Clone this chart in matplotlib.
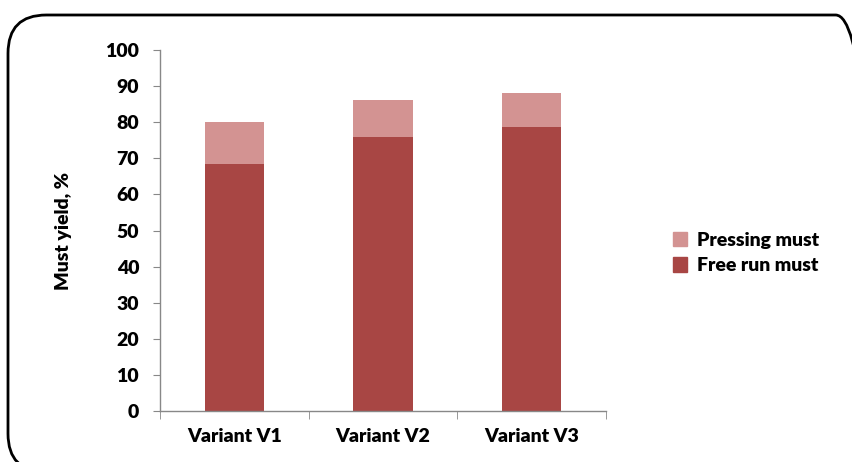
import matplotlib
matplotlib.use("Agg")
import matplotlib.pyplot as plt
from matplotlib.patches import FancyBboxPatch, Patch
import numpy as np

categories = ["Variant V1", "Variant V2", "Variant V3"]
free_run = [68.5, 75.8, 78.7]
pressing = [11.5, 10.3, 9.3]

dark_red = "#A84644"
light_red = "#D39392"

plt.rcParams["font.family"] = ["Lato", "DejaVu Sans"]
weight = "heavy"

fig = plt.figure(figsize=(8.52, 4.62), dpi=100)
W, H = 852, 462

# rounded frame around the chart area (right and bottom edges run off the page)
frame = FancyBboxPatch((8 / W, 1 - 472 / H), 874 / W - 8 / W, (472 - 15) / H,
                       boxstyle="round,pad=0,rounding_size=0.045",
                       transform=fig.transFigure, fill=False,
                       edgecolor="black", linewidth=2, mutation_aspect=W / H)
fig.patches.append(frame)

ax = fig.add_axes([160 / W, 1 - 411 / H, (606 - 160) / W, (411 - 50) / H])

x = np.arange(len(categories))
ax.bar(x, free_run, width=0.4, color=dark_red, label="Free run must")
ax.bar(x, pressing, width=0.4, bottom=free_run, color=light_red, label="Pressing must")

ax.set_xlim(-0.5, len(categories) - 0.5)
ax.set_ylim(0, 100)
ax.set_yticks(range(0, 101, 10))
ax.set_xticks(x)
ax.set_xticklabels(categories, fontsize=14, fontweight=weight)
ax.set_xticks(np.arange(-0.5, len(categories)), minor=True)
ax.tick_params(axis="x", which="major", length=0, pad=12)
ax.tick_params(axis="x", which="minor", length=6, color="#888888")
ax.tick_params(axis="y", length=5, color="#888888", pad=10)
for lbl in ax.get_yticklabels():
    lbl.set_fontsize(14)
    lbl.set_fontweight(weight)

for side in ["top", "right"]:
    ax.spines[side].set_visible(False)
for side in ["left", "bottom"]:
    ax.spines[side].set_color("#888888")
    ax.spines[side].set_linewidth(1)

ax.set_ylabel("Must yield, %", fontsize=14, fontweight=weight, labelpad=24)

handles = [Patch(color=light_red, label="Pressing must"),
           Patch(color=dark_red, label="Free run must")]
fig.legend(handles=handles, loc="center left", bbox_to_anchor=(655 / W, 1 - 253 / H),
           frameon=False, handlelength=0.75, handleheight=0.75, handletextpad=0.5,
           labelspacing=0.45, prop={"size": 14, "weight": weight})

fig.savefig("out.png", dpi=100)
